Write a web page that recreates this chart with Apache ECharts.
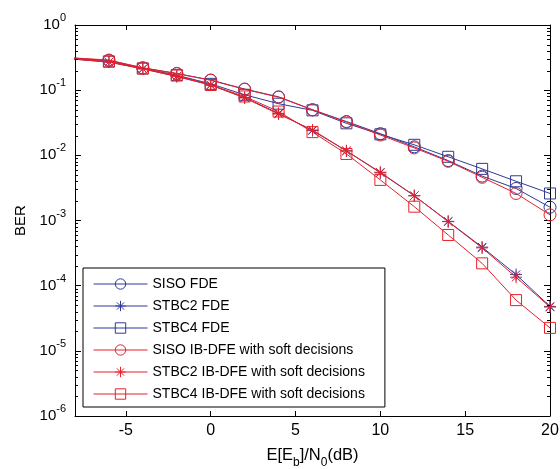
<!DOCTYPE html>
<html>
<head>
<meta charset="utf-8">
<script src="https://cdn.jsdelivr.net/npm/echarts@6/dist/echarts.min.js"></script>
<style>
  html, body { margin: 0; padding: 0; background: #fff; }
  #chart { width: 560px; height: 469px; }
</style>
</head>
<body>
<div id="chart"></div>
<script>
// Eb/N0 grid in dB (the first point lies left of the visible range)
const snrDb = [-10, -6, -4, -2, 0, 2, 4, 6, 8, 10, 12, 14, 16, 18, 20];

// BER curves
const sisoFde      = [0.335, 0.285, 0.22, 0.18, 0.143, 0.104, 0.079, 0.050, 0.033, 0.0215, 0.0135, 0.0083, 0.0048, 0.0031, 0.0016];
const stbc2Fde     = [0.33, 0.27, 0.213, 0.163, 0.12, 0.077, 0.044, 0.024, 0.0117, 0.0054, 0.0024, 0.00097, 0.00039, 0.000148, 4.8e-5];
const stbc4Fde     = [0.33, 0.275, 0.215, 0.17, 0.125, 0.085, 0.062, 0.049, 0.031, 0.021, 0.0145, 0.0095, 0.0062, 0.0040, 0.0026];
const sisoIbdfe    = [0.335, 0.29, 0.22, 0.18, 0.142, 0.103, 0.078, 0.050, 0.0325, 0.0205, 0.013, 0.0081, 0.0046, 0.0026, 0.00122];
const stbc2Ibdfe   = [0.33, 0.27, 0.212, 0.162, 0.12, 0.076, 0.043, 0.0245, 0.0117, 0.0055, 0.0024, 0.00096, 0.00038, 0.000135, 4.7e-5];
const stbc4Ibdfe   = [0.33, 0.275, 0.215, 0.168, 0.12, 0.08, 0.047, 0.0227, 0.0105, 0.0042, 0.00163, 0.0006, 0.00022, 6.0e-5, 2.25e-5];

const seriesNames = [
  'SISO FDE', 'STBC2 FDE', 'STBC4 FDE',
  'SISO IB-DFE with soft decisions',
  'STBC2 IB-DFE with soft decisions',
  'STBC4 IB-DFE with soft decisions'
];
const seriesValues = [sisoFde, stbc2Fde, stbc4Fde, sisoIbdfe, stbc2Ibdfe, stbc4Ibdfe];

const xTickValues = [-5, 0, 5, 10, 15, 20];

const BLUE = '#2E3A94';
const RED = '#E8202A';
const FONT = '"Liberation Sans", Arial, Helvetica, sans-serif';
const STAR = 'path://M0,-1L0,1M-1,0L1,0M-0.7,-0.7L0.7,0.7M-0.7,0.7L0.7,-0.7';

const styles = [
  { color: BLUE, symbol: 'circle', size: 12 },
  { color: BLUE, symbol: STAR, size: 12 },
  { color: BLUE, symbol: 'rect', size: 11 },
  { color: RED, symbol: 'circle', size: 12 },
  { color: RED, symbol: STAR, size: 12 },
  { color: RED, symbol: 'rect', size: 11 }
];

const series = seriesNames.map((name, i) => ({
  name,
  type: 'line',
  xAxisIndex: 0,
  yAxisIndex: 0,
  data: snrDb.map((x, j) => [x, seriesValues[i][j]]),
  symbol: styles[i].symbol,
  symbolSize: styles[i].size,
  showAllSymbol: true,
  clip: true,
  lineStyle: { color: styles[i].color, width: 1 },
  itemStyle: { color: 'rgba(0,0,0,0)', borderColor: styles[i].color, borderWidth: 1 },
  emphasis: { disabled: true },
  z: 2 + i
}));

const chart = echarts.init(document.getElementById('chart'), null, { renderer: 'canvas' });

chart.setOption({
  animation: false,
  backgroundColor: '#fff',
  grid: { left: 75, right: 10, top: 25, bottom: 53, containLabel: false, outerBoundsMode: 'none' },
  legend: {
    orient: 'vertical',
    left: 83,
    top: 268,
    itemWidth: 54,
    itemHeight: 13,
    itemGap: 8,
    padding: [9, 20, 6, 10],
    backgroundColor: '#fff',
    borderColor: '#000',
    borderWidth: 1,
    borderRadius: 0,
    selectedMode: false,
    lineStyle: { width: 1 },
    itemStyle: { borderWidth: 1 },
    textStyle: { fontFamily: FONT, fontSize: 14, color: '#000' },
    data: seriesNames
  },
  xAxis: [
    {
      type: 'value', min: -8, max: 20, position: 'bottom',
      axisLine: { show: true, onZero: false, lineStyle: { color: '#000', width: 1 } },
      axisTick: { show: true, inside: true, length: 5, customValues: xTickValues, lineStyle: { color: '#000' } },
      axisLabel: { show: true, customValues: xTickValues, margin: 7, fontFamily: FONT, fontSize: 16, color: '#000' },
      splitLine: { show: false },
      name: '{m|E[E}{s|b}{m|]/N}{s|0}{m|(dB)}',
      nameLocation: 'middle',
      nameGap: 26,
      nameTextStyle: {
        rich: {
          m: { fontFamily: FONT, fontSize: 16.5, color: '#000' },
          s: { fontFamily: FONT, fontSize: 12, color: '#000', padding: [15, 0, 0, 0] }
        }
      }
    },
    {
      type: 'value', min: -8, max: 20, position: 'top',
      axisLine: { show: true, onZero: false, lineStyle: { color: '#000', width: 1 } },
      axisTick: { show: true, inside: true, length: 5, customValues: xTickValues, lineStyle: { color: '#000' } },
      axisLabel: { show: false },
      splitLine: { show: false }
    }
  ],
  yAxis: [
    {
      type: 'log', logBase: 10, min: 1e-6, max: 1, splitNumber: 6, position: 'left',
      axisLine: { show: true, onZero: false, lineStyle: { color: '#000', width: 1 } },
      axisTick: { show: true, inside: true, length: 6, lineStyle: { color: '#000' } },
      axisLabel: {
        show: true, margin: 9,
        formatter: v => '{b|10}{e|' + Math.round(Math.log10(v)) + '}',
        rich: {
          b: { fontFamily: FONT, fontSize: 15, color: '#000' },
          e: { fontFamily: FONT, fontSize: 11, color: '#000', padding: [0, 0, 14, 0] }
        }
      },
      splitLine: { show: false },
      name: 'BER',
      nameLocation: 'middle',
      nameGap: 46,
      nameTextStyle: { fontFamily: FONT, fontSize: 15, color: '#000' }
    },
    {
      type: 'log', logBase: 10, min: 1e-6, max: 1, splitNumber: 6, position: 'right',
      axisLine: { show: true, onZero: false, lineStyle: { color: '#000', width: 1 } },
      axisTick: { show: true, inside: true, length: 6, lineStyle: { color: '#000' } },
      axisLabel: { show: false },
      splitLine: { show: false }
    }
  ],
  series
});

// Minor log ticks (2..9 per decade) on both vertical edges, placed through the y scale
const minorTicks = [];
const xLeft = chart.convertToPixel({ xAxisIndex: 0 }, -8);
const xRight = chart.convertToPixel({ xAxisIndex: 0 }, 20);
for (let e = -6; e < 0; e++) {
  for (let k = 2; k <= 9; k++) {
    const y = Math.round(chart.convertToPixel({ yAxisIndex: 0 }, k * Math.pow(10, e))) + 0.5;
    minorTicks.push({ type: 'line', silent: true, z: 10,
      shape: { x1: xLeft, y1: y, x2: xLeft + 3, y2: y }, style: { stroke: '#000', lineWidth: 1 } });
    minorTicks.push({ type: 'line', silent: true, z: 10,
      shape: { x1: xRight - 3, y1: y, x2: xRight, y2: y }, style: { stroke: '#000', lineWidth: 1 } });
  }
}
chart.setOption({ graphic: minorTicks });
</script>
</body>
</html>
